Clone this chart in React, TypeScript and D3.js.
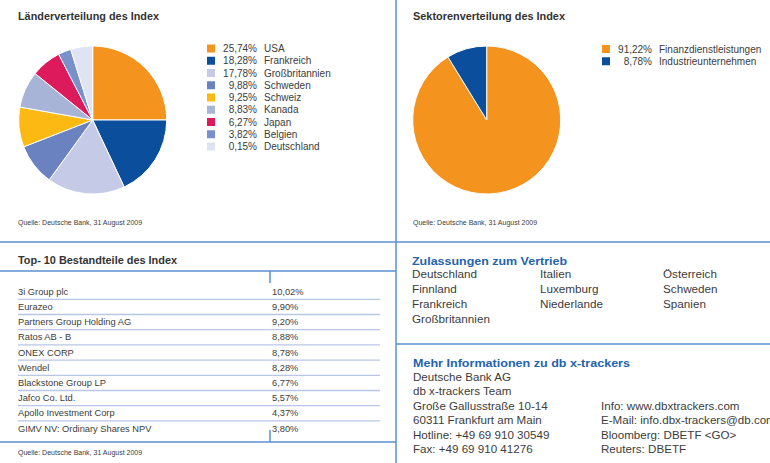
// @ts-nocheck
import React from 'react';
import * as d3 from 'd3';

// Länderverteilung
const laender = ['USA', 'Frankreich', 'Großbritannien', 'Schweden', 'Schweiz', 'Kanada', 'Japan', 'Belgien', 'Deutschland'];
const laenderAnteil = [25.74, 18.28, 17.78, 9.88, 9.25, 8.83, 6.27, 3.82, 0.15];
// slice sizes as they are drawn in the source pie
const laenderSegment = [25.0, 18.0, 17.0, 9.1, 8.7, 8.0, 6.6, 2.8, 4.8];
const laenderFarben = ['#f5931f', '#0b4f9c', '#c5cbe7', '#6a82bf', '#fdb913', '#a8b3d8', '#dc1a5c', '#7890cb', '#dfe3f2'];

// Sektorenverteilung
const sektoren = ['Finanzdienstleistungen', 'Industrieunternehmen'];
const sektorAnteil = [91.22, 8.78];
const sektorFarben = ['#f5931f', '#0b4f9c'];

// Top 10
const top10Namen = [
    '3i Group plc',
    'Eurazeo',
    'Partners Group Holding AG',
    'Ratos AB - B',
    'ONEX CORP',
    'Wendel',
    'Blackstone Group LP',
    'Jafco Co. Ltd.',
    'Apollo Investment Corp',
    'GIMV NV: Ordinary Shares NPV'
];
const top10Werte = [10.02, 9.9, 9.2, 8.88, 8.78, 8.28, 6.77, 5.57, 4.37, 3.8];

const zulassungen = [
    ['Deutschland', 'Finnland', 'Frankreich', 'Großbritannien'],
    ['Italien', 'Luxemburg', 'Niederlande'],
    ['Österreich', 'Schweden', 'Spanien']
];

const kontakt = ['Deutsche Bank AG', 'db x-trackers Team', 'Große Gallusstraße 10-14', '60311 Frankfurt am Main', 'Hotline: +49 69 910 30549', 'Fax: +49 69 910 41276'];
const kontakt2 = ['Info: www.dbxtrackers.com', 'E-Mail: info.dbx-trackers@db.com', 'Bloomberg: DBETF <GO>', 'Reuters: DBETF'];

const quelle = 'Quelle: Deutsche Bank, 31 August 2009';

const W = 770;
const H = 463;
const FONT = '"Liberation Sans", Arial, Helvetica, sans-serif';
const TXT = '#3c3c3c';
const LINE = '#5a8fd3';
const BLUE_TITLE = '#2463ad';

const pct = (v) => d3.format('.2f')(v).replace('.', ',') + '%';

function Pie({ cx, cy, r, values, colors }) {
    const pie = d3.pie().sort(null).value((d) => d);
    const arc = d3.arc().innerRadius(0).outerRadius(r);
    return (
        <g transform={`translate(${cx},${cy})`}>
            {pie(values).map((a, i) => (
                <path key={i} d={arc(a)} fill={colors[i]} stroke="#fff" strokeWidth={1} strokeLinejoin="round" />
            ))}
        </g>
    );
}

function Legend({ x, y, names, values, colors }) {
    const ys = d3.scaleLinear().domain([0, 1]).range([y, y + 12.25]);
    return (
        <g fontFamily={FONT} fontSize={10} fill={TXT}>
            {names.map((n, i) => (
                <g key={n}>
                    <rect x={x} y={ys(i) - 4} width={8} height={8} fill={colors[i]} />
                    <text x={x + 50} y={ys(i) + 3.5} textAnchor="end">{pct(values[i])}</text>
                    <text x={x + 57} y={ys(i) + 3.5}>{n}</text>
                </g>
            ))}
        </g>
    );
}

export default function App() {
    const rowY = d3.scaleLinear().domain([0, 1]).range([291.5, 306.7]);

    return (
        <svg width={W} height={H} viewBox={`0 0 ${W} ${H}`} style={{ position: 'absolute', left: 0, top: 0, background: '#fff' }}>
            <rect width={W} height={H} fill="#fff" />

            {/* Rahmenlinien */}
            <g stroke={LINE} strokeWidth={1.5} fill="none">
                <line x1={396} y1={0} x2={396} y2={H} />
                <line x1={0} y1={242} x2={W} y2={242} />
                <line x1={0} y1={271} x2={396} y2={271} />
                <line x1={396} y1={344} x2={W} y2={344} />
                <line x1={0} y1={442} x2={396} y2={442} />
                <line x1={270} y1={271} x2={270} y2={283} />
                <line x1={270} y1={430} x2={270} y2={442} />
            </g>

            {/* Länderverteilung */}
            <text x={18} y={20} fontFamily={FONT} fontWeight="bold" fontSize={10.5} fill="#333" textLength={141} lengthAdjust="spacingAndGlyphs">Länderverteilung des Index</text>
            <Pie cx={92.7} cy={120} r={74} values={laenderSegment} colors={laenderFarben} />
            <Legend x={207} y={48.5} names={laender} values={laenderAnteil} colors={laenderFarben} />
            <text x={18} y={224.5} fontFamily={FONT} fontSize={7} fill={TXT}>{quelle}</text>

            {/* Sektorenverteilung */}
            <text x={413} y={20} fontFamily={FONT} fontWeight="bold" fontSize={10.5} fill="#333" textLength={152} lengthAdjust="spacingAndGlyphs">Sektorenverteilung des Index</text>
            <Pie cx={486.7} cy={120} r={74} values={sektorAnteil} colors={sektorFarben} />
            <Legend x={602} y={49} names={sektoren} values={sektorAnteil} colors={sektorFarben} />
            <text x={413} y={224.5} fontFamily={FONT} fontSize={7} fill={TXT}>{quelle}</text>

            {/* Top 10 */}
            <text x={18} y={264} fontFamily={FONT} fontWeight="bold" fontSize={10.5} fill="#333" textLength={159} lengthAdjust="spacingAndGlyphs">Top- 10 Bestandteile des Index</text>
            <g fontFamily={FONT} fontSize={9.3} fill={TXT}>
                {top10Namen.map((n, i) => (
                    <g key={n}>
                        <text x={18} y={rowY(i) + 3.3}>{n}</text>
                        <text x={272} y={rowY(i) + 3.3}>{pct(top10Werte[i])}</text>
                        {i < top10Namen.length - 1 && (
                            <line x1={18} x2={380} y1={rowY(i) + 7.8} y2={rowY(i) + 7.8} stroke="#b9c6e6" strokeWidth={1.3} />
                        )}
                    </g>
                ))}
            </g>
            <text x={18} y={455} fontFamily={FONT} fontSize={7} fill={TXT}>{quelle}</text>

            {/* Zulassungen */}
            <text x={412} y={264.5} fontFamily={FONT} fontWeight="bold" fontSize={11.5} fill={BLUE_TITLE} textLength={155} lengthAdjust="spacingAndGlyphs">Zulassungen zum Vertrieb</text>
            <g fontFamily={FONT} fontSize={11.7} fill={TXT}>
                {zulassungen.map((col, c) =>
                    col.map((n, i) => (
                        <text key={n} x={[412, 540, 663][c]} y={278 + i * 15} >{n}</text>
                    ))
                )}
            </g>

            {/* Mehr Informationen */}
            <text x={413} y={367} fontFamily={FONT} fontWeight="bold" fontSize={11.5} fill={BLUE_TITLE} textLength={217} lengthAdjust="spacingAndGlyphs">Mehr Informationen zu db x-trackers</text>
            <g fontFamily={FONT} fontSize={11.6} fill={TXT}>
                {kontakt.map((t, i) => (
                    <text key={t} x={413} y={380.8 + i * 14.5}>{t}</text>
                ))}
                {kontakt2.map((t, i) => (
                    <text key={t} x={601} y={409.8 + i * 14.5}>{t}</text>
                ))}
            </g>
        </svg>
    );
}
